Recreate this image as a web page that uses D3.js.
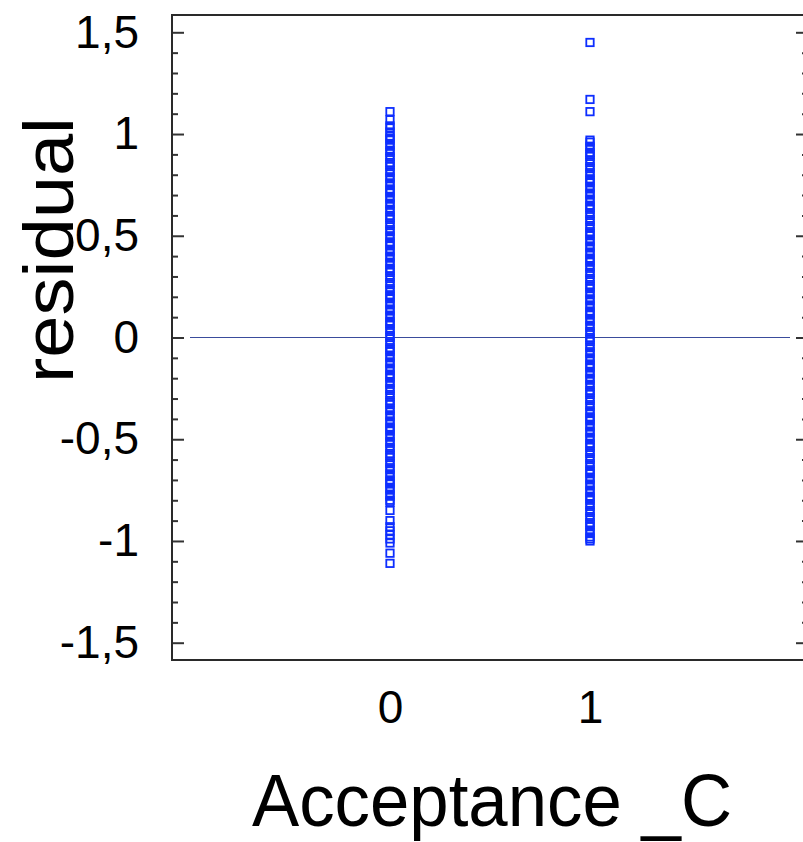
<!DOCTYPE html>
<html>
<head>
<meta charset="UTF-8">
<title>residual vs Acceptance _C</title>
<script src="https://d3js.org/d3.v7.min.js"></script>
<style>
    body { margin: 0; background: #fff; }
    svg { display: block; font-family: Arial, "Liberation Sans", sans-serif; }
</style>
</head>
<body>
<svg id="chart" width="803" height="842"></svg>
<script>
    // residuals, one array per Acceptance_C group
    const groups = [0, 1];
    const residual0 = [1.11, 1.07, 1.04, 1.03, 1.01, 0.99, 0.98, 0.97, 0.95, 0.94, 0.92, 0.91, 0.89, 0.88, 0.86, 0.85, 0.84, 0.82, 0.81, 0.79,
        0.78, 0.76, 0.75, 0.73, 0.72, 0.71, 0.69, 0.68, 0.66, 0.65, 0.63, 0.62, 0.60, 0.59, 0.58, 0.56, 0.55, 0.53, 0.52, 0.50,
        0.49, 0.47, 0.46, 0.45, 0.43, 0.42, 0.40, 0.39, 0.37, 0.36, 0.34, 0.33, 0.32, 0.30, 0.29, 0.27, 0.26, 0.24, 0.23, 0.21,
        0.20, 0.19, 0.17, 0.16, 0.14, 0.13, 0.11, 0.10, 0.08, 0.07, 0.06, 0.04, 0.03, 0.01, 0.00, -0.02, -0.03, -0.05, -0.06, -0.07,
        -0.09, -0.10, -0.12, -0.13, -0.15, -0.16, -0.18, -0.19, -0.20, -0.22, -0.23, -0.25, -0.26, -0.28, -0.29, -0.31, -0.32, -0.33, -0.35, -0.36,
        -0.38, -0.39, -0.41, -0.42, -0.44, -0.45, -0.46, -0.48, -0.49, -0.51, -0.52, -0.54, -0.55, -0.57, -0.58, -0.59, -0.61, -0.62, -0.64, -0.65,
        -0.67, -0.68, -0.70, -0.71, -0.72, -0.74, -0.75, -0.77, -0.78, -0.80, -0.81, -0.85, -0.90, -0.93, -0.95, -0.97, -0.99, -1.01, -1.06, -1.11];
    const residual1 = [1.45, 1.17, 1.11, 0.97, 0.96, 0.94, 0.93, 0.91, 0.90, 0.89, 0.87, 0.86, 0.84, 0.83, 0.81, 0.80, 0.78, 0.77, 0.76, 0.74,
        0.73, 0.71, 0.70, 0.68, 0.67, 0.65, 0.64, 0.63, 0.61, 0.60, 0.58, 0.57, 0.55, 0.54, 0.52, 0.51, 0.50, 0.48, 0.47, 0.45,
        0.44, 0.42, 0.41, 0.39, 0.38, 0.37, 0.35, 0.34, 0.32, 0.31, 0.29, 0.28, 0.26, 0.25, 0.24, 0.22, 0.21, 0.19, 0.18, 0.16,
        0.15, 0.13, 0.12, 0.11, 0.09, 0.08, 0.06, 0.05, 0.03, 0.02, 0.00, -0.01, -0.02, -0.04, -0.05, -0.07, -0.08, -0.10, -0.11, -0.13,
        -0.14, -0.15, -0.17, -0.18, -0.20, -0.21, -0.23, -0.24, -0.26, -0.27, -0.28, -0.30, -0.31, -0.33, -0.34, -0.36, -0.37, -0.39, -0.40, -0.41,
        -0.43, -0.44, -0.46, -0.47, -0.49, -0.50, -0.52, -0.53, -0.54, -0.56, -0.57, -0.59, -0.60, -0.62, -0.63, -0.65, -0.66, -0.67, -0.69, -0.70,
        -0.72, -0.73, -0.75, -0.76, -0.78, -0.79, -0.80, -0.82, -0.83, -0.85, -0.86, -0.88, -0.89, -0.91, -0.92, -0.93, -0.95, -0.96, -0.98, -0.99, -1.00];

    const yMajorTicks = [-1.5, -1, -0.5, 0, 0.5, 1, 1.5];
    const yMinorTicks = [-1.4, -1.3, -1.2, -1.1, -0.9, -0.8, -0.7, -0.6, -0.4, -0.3, -0.2, -0.1,
        0.1, 0.2, 0.3, 0.4, 0.6, 0.7, 0.8, 0.9, 1.1, 1.2, 1.3, 1.4];
    const xTicks = [0, 1];
    const xDomain = [-1.09, 2.09];
    const yDomain = [-1.585, 1.585];
    const zeroLineX = [-1, 2];

    const frame = { left: 172, right: 808, top: 15, bottom: 660 };
    const blue = "#0d2eff";

    const svg = d3.select("#chart");

    const x = d3.scaleLinear().domain(xDomain).range([frame.left, frame.right]);
    const y = d3.scaleLinear().domain(yDomain).range([frame.bottom, frame.top]);

    // comma decimals, plain hyphen minus
    const fmt = d3.formatLocale({ decimal: ",", thousands: ".", grouping: [3], currency: ["", ""], minus: "-" }).format("~g");

    // left axis: minor + major ticks, pointing inward
    svg.append("g")
        .attr("transform", `translate(${frame.left},0)`)
        .call(d3.axisLeft(y).tickValues(yMinorTicks).tickSize(-6).tickFormat(""))
        .call(g => g.select(".domain").remove());

    svg.append("g")
        .attr("class", "y-major")
        .attr("transform", `translate(${frame.left},0)`)
        .call(d3.axisLeft(y).tickValues(yMajorTicks).tickSize(-12).tickPadding(33).tickFormat(fmt))
        .call(g => g.select(".domain").remove());

    // right axis ticks (frame edge sits just outside the window)
    svg.append("g")
        .attr("transform", `translate(${frame.right},0)`)
        .call(d3.axisRight(y).tickValues(yMajorTicks).tickSize(-12).tickFormat(""))
        .call(g => g.select(".domain").remove());
    svg.append("g")
        .attr("transform", `translate(${frame.right},0)`)
        .call(d3.axisRight(y).tickValues(yMinorTicks).tickSize(-6).tickFormat(""))
        .call(g => g.select(".domain").remove());

    // bottom axis labels only
    svg.append("g")
        .attr("class", "x-axis")
        .attr("transform", `translate(0,${frame.bottom})`)
        .call(d3.axisBottom(x).tickValues(xTicks).tickSize(0).tickPadding(30).tickFormat(fmt))
        .call(g => g.select(".domain").remove());

    svg.selectAll(".tick line").attr("stroke", "#333").attr("stroke-width", 2);
    svg.selectAll(".tick text").attr("fill", "#000").style("font-size", "46px").style("font-family", "Arial, 'Liberation Sans', sans-serif");

    // frame lines
    svg.append("path")
        .attr("d", `M${frame.right},${frame.top}H${frame.left}V${frame.bottom}H${frame.right}`)
        .attr("fill", "none")
        .attr("stroke", "#2a2a2a")
        .attr("stroke-width", 2);

    // zero reference line
    svg.append("line")
        .attr("x1", x(zeroLineX[0])).attr("x2", x(zeroLineX[1]))
        .attr("y1", y(0)).attr("y2", y(0))
        .attr("stroke", "#3a4c9c")
        .attr("stroke-width", 1);

    // points
    const points = [
        ...residual0.map(v => ({ g: groups[0], v })),
        ...residual1.map(v => ({ g: groups[1], v }))
    ];
    const s = 7.4;
    svg.append("g")
        .selectAll("rect")
        .data(points)
        .join("rect")
        .attr("x", d => x(d.g) - s / 2)
        .attr("y", d => y(d.v) - s / 2)
        .attr("width", s)
        .attr("height", s)
        .attr("fill", "none")
        .attr("stroke", blue)
        .attr("stroke-width", 1.8);

    // axis titles
    svg.append("text")
        .attr("transform", `translate(73,250) rotate(-90)`)
        .attr("text-anchor", "middle")
        .attr("textLength", 266)
        .attr("lengthAdjust", "spacingAndGlyphs")
        .style("font-size", "70px")
        .text("residual");

    svg.append("text")
        .attr("x", 252)
        .attr("y", 826)
        .attr("textLength", 480)
        .attr("lengthAdjust", "spacingAndGlyphs")
        .style("font-size", "74px")
        .text("Acceptance _C");
</script>
</body>
</html>
